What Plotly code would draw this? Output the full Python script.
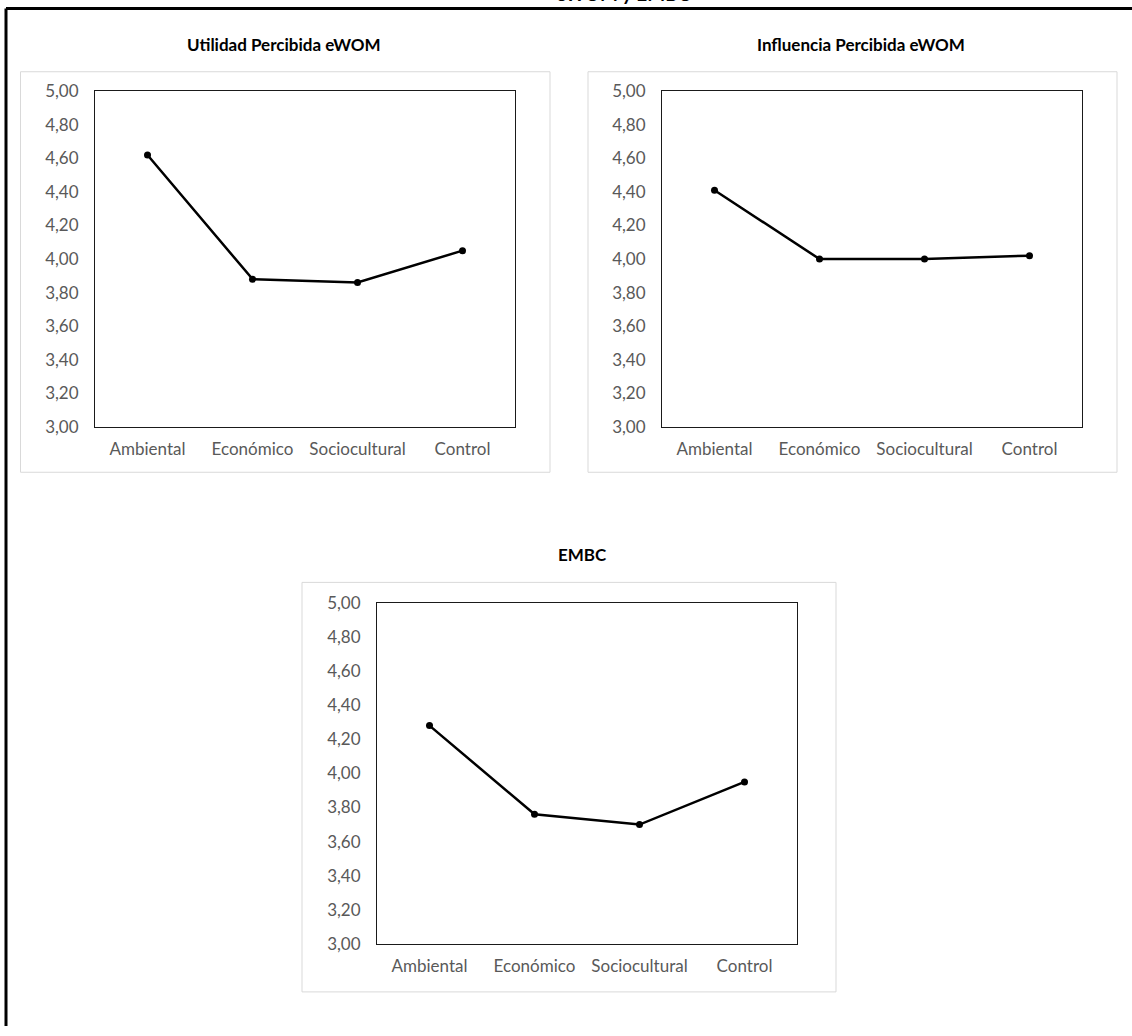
import plotly.graph_objects as go

# Group means per message frame
categorias = ["Ambiental", "Económico", "Sociocultural", "Control"]
utilidad_ewom = [4.62, 3.88, 3.86, 4.05]
influencia_ewom = [4.41, 4.00, 4.00, 4.02]
embc = [4.28, 3.76, 3.70, 3.95]

titulos = ["Utilidad Percibida eWOM", "Influencia Percibida eWOM", "EMBC"]
series = [utilidad_ewom, influencia_ewom, embc]

y_ticks = [3.0, 3.2, 3.4, 3.6, 3.8, 4.0, 4.2, 4.4, 4.6, 4.8, 5.0]

W, H = 1132, 1036
FONT = "Lato, 'Open Sans', sans-serif"


def px_x(v):
    return v / W


def px_y(v):
    return 1 - v / H


# (plot left, plot right, plot top, plot bottom) in layout pixels
plot_boxes = [
    (95, 515, 82.0, 424.3),
    (662, 1082, 82.0, 424.3),
    (377, 797, 604.0, 952.3),
]
# chart frame boxes (left, right, top, bottom)
chart_boxes = [
    (20.5, 550, 62.0, 470.8),
    (588, 1117, 62.0, 470.8),
    (302, 836, 583.2, 1001.2),
]
title_pos = [(284, 34.0), (861, 34.0), (582, 554.5)]

fig = go.Figure()
layout = dict(
    width=W,
    height=H,
    margin=dict(l=0, r=0, t=0, b=0),
    paper_bgcolor="white",
    plot_bgcolor="white",
    separators=",.",
    showlegend=False,
    font=dict(family=FONT, color="#595959", size=17),
)

shapes = []
annotations = []

for i, (vals, titulo) in enumerate(zip(series, titulos)):
    ax = "" if i == 0 else str(i + 1)
    fig.add_trace(
        go.Scatter(
            x=categorias,
            y=vals,
            mode="lines+markers",
            line=dict(color="black", width=2.5),
            marker=dict(color="black", size=7),
            xaxis="x" + ax,
            yaxis="y" + ax,
            hoverinfo="x+y",
        )
    )
    l, r, t, b = plot_boxes[i]
    layout["xaxis" + ax] = dict(
        domain=[px_x(l), px_x(r)],
        anchor="y" + ax,
        type="category",
        range=[-0.5, 3.5],
        showgrid=False,
        zeroline=False,
        showline=True,
        mirror=True,
        linecolor="#1a1a1a",
        linewidth=1,
        ticks="",
        ticklabelstandoff=7,
        tickfont=dict(family=FONT, size=17, color="#595959"),
        fixedrange=True,
    )
    layout["yaxis" + ax] = dict(
        domain=[px_y(b), px_y(t)],
        anchor="x" + ax,
        range=[3, 5],
        tickvals=y_ticks,
        tickformat=".2f",
        showgrid=False,
        zeroline=False,
        showline=True,
        mirror=True,
        linecolor="#1a1a1a",
        linewidth=1,
        ticks="",
        ticklabelstandoff=12,
        tickfont=dict(family=FONT, size=17, color="#595959"),
        fixedrange=True,
    )
    cl, cr, ct, cb = chart_boxes[i]
    shapes.append(
        dict(
            type="rect",
            xref="paper",
            yref="paper",
            x0=px_x(cl),
            x1=px_x(cr),
            y0=px_y(cb),
            y1=px_y(ct),
            line=dict(color="#d9d9d9", width=1),
            fillcolor="rgba(0,0,0,0)",
            layer="below",
        )
    )
    tx, ty = title_pos[i]
    annotations.append(
        dict(
            text="<b>" + titulo + "</b>",
            xref="paper",
            yref="paper",
            x=px_x(tx),
            y=px_y(ty),
            xanchor="center",
            yanchor="middle",
            showarrow=False,
            font=dict(family=FONT, size=17, color="black"),
        )
    )

# Outer figure frame: top and left rules
shapes.append(
    dict(type="line", xref="paper", yref="paper",
         x0=px_x(6), x1=1, y0=px_y(-2.5), y1=px_y(-2.5),
         line=dict(color="black", width=3))
)
shapes.append(
    dict(type="line", xref="paper", yref="paper",
         x0=px_x(6), x1=px_x(6), y0=0, y1=px_y(-2.5),
         line=dict(color="black", width=3))
)

# Caption running off the top edge
annotations.append(
    dict(
        text="<b>eWOM y EMBC</b>",
        xref="paper",
        yref="paper",
        x=px_x(623),
        y=px_y(-4.5),
        xanchor="center",
        yanchor="bottom",
        showarrow=False,
        font=dict(family=FONT, size=19, color="black"),
    )
)

layout["shapes"] = shapes
layout["annotations"] = annotations
fig.update_layout(**layout)

fig.write_html("out.html")
